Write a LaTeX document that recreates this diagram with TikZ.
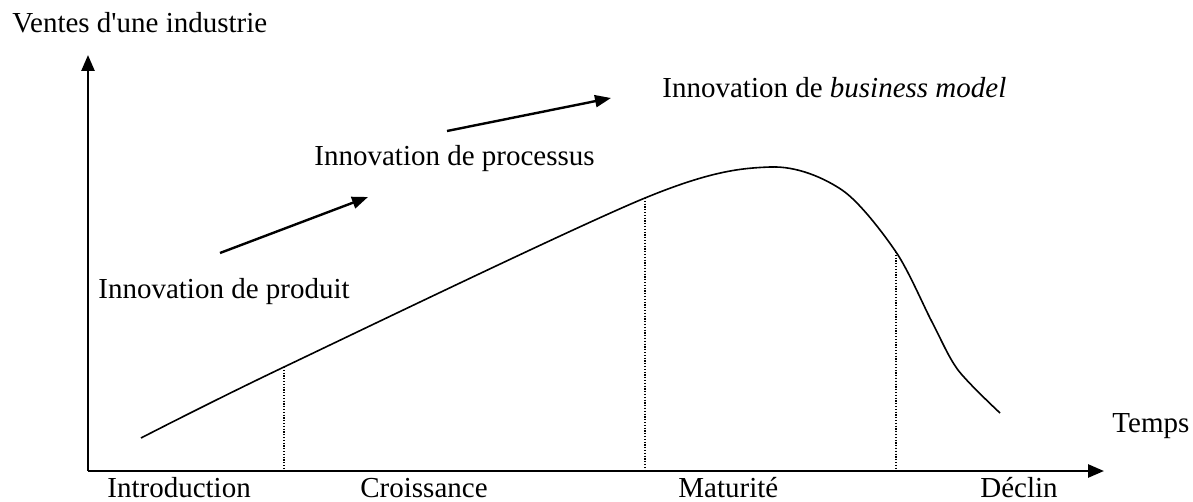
\documentclass[tikz,border=0pt]{standalone}
\usepackage{fontspec}
\setmainfont{Liberation Serif}
\usetikzlibrary{arrows.meta,positioning}

\tikzset{
    axis/.style={line width=1.3pt,-{Triangle[length=8pt,width=6.5pt]}},
    push/.style={line width=1.2pt,-{Triangle[length=8pt,width=6pt]}},
    phase/.style={line width=0.6pt,dash pattern=on 0.6pt off 0.8pt},
    label/.style={inner sep=0pt,anchor=base west,font=\fontsize{14.5}{17}\selectfont},
}

\begin{document}
\begin{tikzpicture}[x=0.5pt,y=-0.5pt]
\useasboundingbox (0,0) rectangle (1193,502);
    % axes
    \coordinate (o) at (88,471);
    \coordinate (ytop) at (88,55);
    \coordinate (xend) at (1104,471);
    \draw[axis] (o)--(ytop);
    \draw[axis] (o)--(xend);
    \node[label] (ventes) at (12,33) {Ventes d\textquotesingle une industrie};
    \node[label] (temps) at (1112,432) {Temps};
    % life cycle
    \coordinate (c1) at (284,367);
    \coordinate (c2) at (645,198);
    \coordinate (c3) at (896,252);
    \draw[line width=0.8pt] plot[smooth,tension=0.5] coordinates {
        (141,438) (c1) (c2) (770,167) (842,190)
        (c3) (932,322) (958,370) (1000,413)};
    \foreach \c in {c1,c2,c3}
        \draw[phase] (\c)--(\c |- o);
    \node[label] (intro) at (107,497) {Introduction};
    \node[label] (croiss) at (360,497) {Croissance};
    \node[label] (matur) at (678,497) {Maturité};
    \node[label] (declin) at (980,497) {Déclin};
    % innovations
    \node[label] (produit) at (98,298) {Innovation de produit};
    \node[label] (processus) at (314,166) {Innovation de processus};
    \node[label] (business) at (662,98) {Innovation de \textit{business model}};
    \coordinate (a1) at (220,253);
    \coordinate (b1) at (368,197);
    \coordinate (a2) at (447,131);
    \coordinate (b2) at (611,98);
    \draw[push] (a1)--(b1);
    \draw[push] (a2)--(b2);
\end{tikzpicture}
\end{document}
